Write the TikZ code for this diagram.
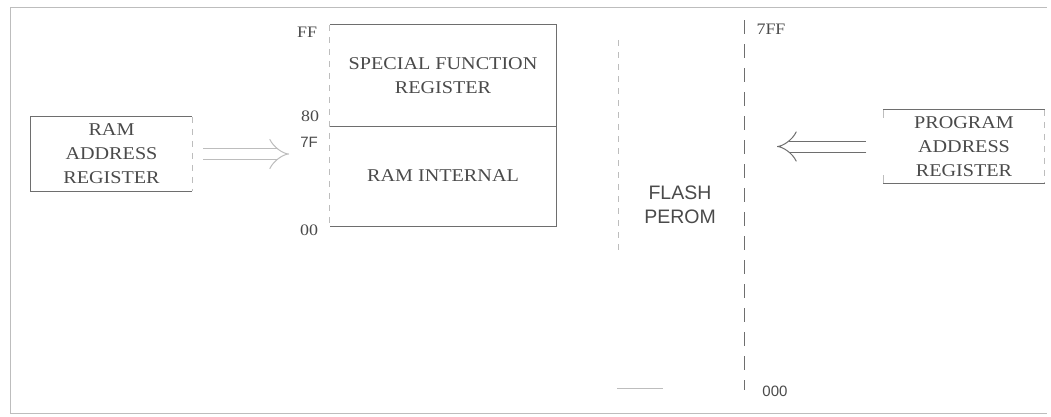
\documentclass[tikz,border=0pt]{standalone}
\usepackage{fontspec}
\setmainfont{Liberation Serif}[FakeStretch=1.12]
\newfontfamily\sansf{Liberation Sans}
\usetikzlibrary{arrows.meta}
\definecolor{ink}{HTML}{4A4A4A}
\definecolor{edgecol}{HTML}{6E6E6E}
\definecolor{faintcol}{HTML}{BDBDBD}
\tikzset{
  solidedge/.style={draw=edgecol, line width=1.1pt},
  faintedge/.style={draw=faintcol, line width=1pt, dash pattern=on 6pt off 6pt},
  framecol/.style={draw=faintcol, line width=1pt},
  boxtext/.style={text=ink, align=center, inner sep=0pt,
    font=\fontsize{18}{24}\selectfont},
  addrlbl/.style={text=ink, inner sep=0pt, font=\fontsize{16}{18}\selectfont},
  addrsans/.style={text=ink, inner sep=0pt, font=\sansf\fontsize{15}{18}\selectfont},
  dblarrow/.style={double=white, draw=edgecol, line width=1pt, double distance=10pt,
    -{Implies[length=16pt,width=34pt]}},
}
\begin{document}
\begin{tikzpicture}[x=1pt,y=-1pt]
\useasboundingbox (0,0) rectangle (1051,416);
% outer frame
\draw[framecol] (10,7) -- (1047,7);
\draw[framecol] (10,7) -- (10,413) -- (1047,413);

% RAM address register
\node[boxtext, minimum width=161pt, minimum height=74pt] (ramreg) at (111.5,154)
  {RAM\\ADDRESS\\REGISTER};
\draw[solidedge] (ramreg.north east) -- (ramreg.north west) -- (ramreg.south west) -- (ramreg.south east);
\draw[faintedge] (ramreg.north east) -- (ramreg.south east);

% memory block
\node[boxtext, minimum width=226pt, minimum height=101pt] (sfr) at (443,75.5)
  {SPECIAL FUNCTION\\REGISTER};
\node[boxtext, minimum width=226pt, minimum height=100pt] (ramint) at (443,176)
  {RAM INTERNAL};
\draw[solidedge] (sfr.north west) -- (sfr.north east) -- (ramint.south east) -- (ramint.south west);
\draw[solidedge] (sfr.south west) -- (sfr.south east);
\draw[faintedge] (sfr.north west) -- (ramint.south west);

% address labels
\node[addrlbl] (lFF) at (307,32) {FF};
\node[addrlbl] (l80) at (310,116) {80};
\node[addrsans] (l7F) at (309,142) {7F};
\node[addrlbl] (l00) at (309,230) {00};

% flash perom
\node[boxtext, font=\sansf\fontsize{19.5}{24}\selectfont] (flash) at (680,205) {FLASH\\PEROM};
\coordinate (flashtop) at (744,20);
\coordinate (flashbot) at (744,390);
\draw[draw=edgecol, line width=1pt, dash pattern=on 14pt off 10pt] (flashtop) -- (flashbot);
\draw[faintedge] (618,40) -- (618,250);
\draw[framecol] (617,388) -- (663,388);
\node[addrlbl] (l7FF) at (771,29) {7FF};
\node[addrsans] (l000) at (775,391) {000};

% program address register
\node[boxtext, minimum width=161pt, minimum height=73pt] (prog) at (964,146.5)
  {PROGRAM\\ADDRESS\\REGISTER};
\draw[solidedge] (prog.north west) -- (prog.north east);
\draw[solidedge] (prog.south west) -- (prog.south east);
\draw[faintedge] (prog.north east) -- (prog.south east);
\draw[draw=faintcol, line width=1pt] (prog.north west) -- ++(0,8);
\draw[draw=faintcol, line width=1pt] (prog.south west) -- ++(0,-8);

% connectors
\draw[dblarrow, draw=faintcol, shorten <=11pt, shorten >=11pt] (ramreg.east) -- (l7F.west |- ramreg.east);
\draw[dblarrow, shorten <=17pt, shorten >=33pt] (prog.west) -- (flashtop |- prog.west);
\end{tikzpicture}
\end{document}
